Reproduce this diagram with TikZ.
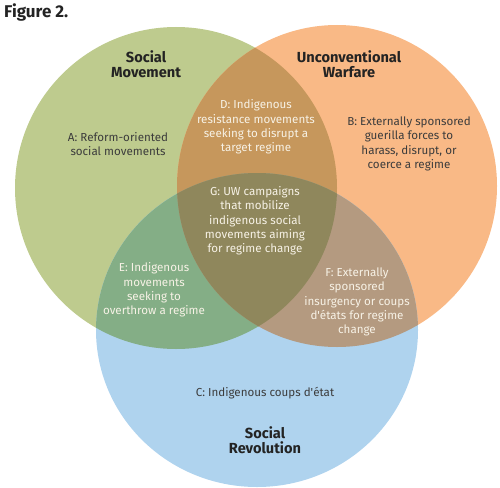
\documentclass[tikz,border=0pt]{standalone}
\usepackage{fontspec}
\setmainfont{Fira Sans}
\definecolor{cgreen}{RGB}{190,203,142}
\definecolor{corange}{RGB}{249,185,134}
\definecolor{cblue}{RGB}{175,211,238}
\definecolor{cD}{RGB}{198,151,92}
\definecolor{cE}{RGB}{132,174,134}
\definecolor{cF}{RGB}{180,154,128}
\definecolor{cG}{RGB}{143,135,92}
\definecolor{tdark}{RGB}{60,60,60}
\definecolor{ttitle}{RGB}{35,35,35}
\definecolor{tlight}{RGB}{247,242,230}
\tikzset{
  body/.style={align=center, font=\fontsize{11.6}{14.3}\selectfont, inner sep=0pt},
  darktext/.style={body, text=tdark},
  lighttext/.style={body, text=tlight},
  title/.style={align=center, font=\fontsize{14.6}{14.8}\selectfont\bfseries, text=ttitle, inner sep=0pt},
}
\begin{document}
\begin{tikzpicture}[x=1pt,y=-1pt]
\useasboundingbox (0,0) rectangle (500,487);
\coordinate (gc) at (176,188);
\coordinate (oc) at (337,186);
\coordinate (bc) at (257,330);
\def\greenpath{(gc) ellipse [x radius=161pt, y radius=161pt]}
\def\orangepath{(oc) ellipse [x radius=160pt, y radius=161pt]}
\def\bluepath{(bc) ellipse [x radius=161pt, y radius=157pt]}
\fill[cgreen] \greenpath;
\fill[corange] \orangepath;
\fill[cblue] \bluepath;
\begin{scope}\clip \greenpath; \fill[cD] \orangepath; \end{scope}
\begin{scope}\clip \greenpath; \fill[cE] \bluepath; \end{scope}
\begin{scope}\clip \orangepath; \fill[cF] \bluepath; \end{scope}
\begin{scope}\clip \greenpath; \clip \orangepath; \fill[cG] \bluepath; \end{scope}

\node[anchor=west, font=\fontsize{17}{19}\selectfont\bfseries, text=ttitle, inner sep=0pt] (fig) at (4,12) {Figure 2.};

\node[title] (tsm) at (146,64) {Social\\Movement};
\node[title] (tuw) at (349,64) {Unconventional\\Warfare};
\node[title] (tsr) at (265,440) {Social\\Revolution};

\node[darktext] (A) at (118,144) {A: Reform-oriented\\social movements};
\node[darktext] (B) at (409,144) {B: Externally sponsored\\guerilla forces to\\harass, disrupt, or\\coerce a regime};
\node[darktext] (C) at (265,393) {C: Indigenous coups d\textquotesingle état};
\node[lighttext] (D) at (256,127) {D: Indigenous\\resistance movements\\seeking to disrupt a\\target regime};
\node[lighttext] (E) at (154,290) {E: Indigenous\\movements\\seeking to\\overthrow a regime};
\node[lighttext] (F) at (357,302) {F: Externally\\sponsored\\insurgency or coups\\d\textquotesingle états for regime\\change};
\node[lighttext] (G) at (255,221) {G: UW campaigns\\that mobilize\\indigenous social\\movements aiming\\for regime change};
\end{tikzpicture}
\end{document}
